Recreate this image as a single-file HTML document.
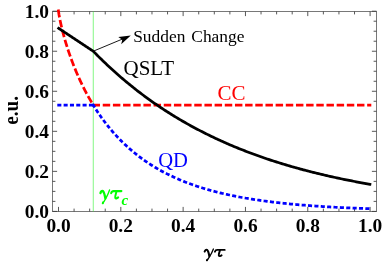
<!DOCTYPE html>
<html><head><meta charset="utf-8"><style>
html,body{margin:0;padding:0;background:#fff;}
svg{display:block;will-change:transform;}
text{font-family:"Liberation Serif",serif;}
</style></head><body>
<svg width="382" height="264" viewBox="0 0 382 264">
<rect width="382" height="264" fill="#fff"/>
<defs><g id="gt"><g fill="none" stroke-linecap="round" stroke-linejoin="round">
<path d="M0.7,-5.1 C1.1,-6.7 2.1,-7.2 3.0,-6.8 C4.2,-6.0 4.9,-3.0 5.3,-0.6" stroke-width="2.1"/>
<path d="M9.4,-7.7 C8.2,-4.5 6.7,-1.8 5.4,0.2 C4.4,1.9 3.6,3.2 3.0,3.6" stroke-width="1.3"/>
<path d="M3.2,3.0 L2.9,3.6" stroke-width="1.9"/>
<path d="M10.9,-5.0 C11.3,-6.3 12.2,-6.8 13.3,-6.8 L20.7,-6.8" stroke-width="1.9"/>
<path d="M16.0,-6.6 C15.5,-4.5 14.4,-2.2 14.8,-1.1 C15.2,-0.3 16.5,-0.4 17.6,-1.4" stroke-width="1.9"/>
</g></g></defs>
<g stroke="#3a3a3a" stroke-width="0.85" fill="none">
<rect x="52.5" y="11.5" width="324.0" height="200.0" stroke="#787878" stroke-width="1"/>
<path d="M58.50,211.5 v-4.6 M58.50,11.5 v4.6"/>
<path d="M52.5,211.40 h4.6 M376.5,211.40 h-4.6"/>
<path d="M74.08,211.5 v-2.9 M74.08,11.5 v2.9"/>
<path d="M52.5,201.39 h2.9 M376.5,201.39 h-2.9"/>
<path d="M89.66,211.5 v-2.9 M89.66,11.5 v2.9"/>
<path d="M52.5,191.38 h2.9 M376.5,191.38 h-2.9"/>
<path d="M105.24,211.5 v-2.9 M105.24,11.5 v2.9"/>
<path d="M52.5,181.37 h2.9 M376.5,181.37 h-2.9"/>
<path d="M120.82,211.5 v-4.6 M120.82,11.5 v4.6"/>
<path d="M52.5,171.36 h4.6 M376.5,171.36 h-4.6"/>
<path d="M136.40,211.5 v-2.9 M136.40,11.5 v2.9"/>
<path d="M52.5,161.35 h2.9 M376.5,161.35 h-2.9"/>
<path d="M151.98,211.5 v-2.9 M151.98,11.5 v2.9"/>
<path d="M52.5,151.34 h2.9 M376.5,151.34 h-2.9"/>
<path d="M167.56,211.5 v-2.9 M167.56,11.5 v2.9"/>
<path d="M52.5,141.33 h2.9 M376.5,141.33 h-2.9"/>
<path d="M183.14,211.5 v-4.6 M183.14,11.5 v4.6"/>
<path d="M52.5,131.32 h4.6 M376.5,131.32 h-4.6"/>
<path d="M198.72,211.5 v-2.9 M198.72,11.5 v2.9"/>
<path d="M52.5,121.31 h2.9 M376.5,121.31 h-2.9"/>
<path d="M214.30,211.5 v-2.9 M214.30,11.5 v2.9"/>
<path d="M52.5,111.30 h2.9 M376.5,111.30 h-2.9"/>
<path d="M229.88,211.5 v-2.9 M229.88,11.5 v2.9"/>
<path d="M52.5,101.29 h2.9 M376.5,101.29 h-2.9"/>
<path d="M245.46,211.5 v-4.6 M245.46,11.5 v4.6"/>
<path d="M52.5,91.28 h4.6 M376.5,91.28 h-4.6"/>
<path d="M261.04,211.5 v-2.9 M261.04,11.5 v2.9"/>
<path d="M52.5,81.27 h2.9 M376.5,81.27 h-2.9"/>
<path d="M276.62,211.5 v-2.9 M276.62,11.5 v2.9"/>
<path d="M52.5,71.26 h2.9 M376.5,71.26 h-2.9"/>
<path d="M292.20,211.5 v-2.9 M292.20,11.5 v2.9"/>
<path d="M52.5,61.25 h2.9 M376.5,61.25 h-2.9"/>
<path d="M307.78,211.5 v-4.6 M307.78,11.5 v4.6"/>
<path d="M52.5,51.24 h4.6 M376.5,51.24 h-4.6"/>
<path d="M323.36,211.5 v-2.9 M323.36,11.5 v2.9"/>
<path d="M52.5,41.23 h2.9 M376.5,41.23 h-2.9"/>
<path d="M338.94,211.5 v-2.9 M338.94,11.5 v2.9"/>
<path d="M52.5,31.22 h2.9 M376.5,31.22 h-2.9"/>
<path d="M354.52,211.5 v-2.9 M354.52,11.5 v2.9"/>
<path d="M52.5,21.21 h2.9 M376.5,21.21 h-2.9"/>
<path d="M370.10,211.5 v-4.6 M370.10,11.5 v4.6"/>
<path d="M52.5,11.20 h4.6 M376.5,11.20 h-4.6"/>
</g>
<g fill="none">
<path d="M93.27,11.5 V211.5" stroke="#30f030" stroke-width="0.6"/>
<g stroke="#ff0000" stroke-width="2.75" stroke-dasharray="7.45 2.72"><path d="M58.26,9.52 L58.50,11.20 L58.94,14.28 L59.38,16.79 L59.82,19.08 L60.26,21.23 L60.70,23.26 L61.14,25.22 L61.58,27.09 L62.02,28.91 L62.46,30.67 L62.90,32.38 L63.34,34.05 L63.78,35.68 L64.22,37.27 L64.66,38.82 L65.10,40.35 L65.54,41.84 L65.98,43.30 L66.42,44.74 L66.86,46.15 L67.30,47.54 L67.74,48.90 L68.18,50.24 L68.62,51.56 L69.06,52.86 L69.50,54.14 L69.94,55.41 L70.38,56.65 L70.82,57.88 L71.26,59.08 L71.70,60.28 L72.14,61.45 L72.58,62.62 L73.02,63.76 L73.46,64.90 L73.90,66.01 L74.34,67.12 L74.78,68.21 L75.22,69.29 L75.66,70.35 L76.10,71.41 L76.54,72.45 L76.98,73.48 L77.42,74.50 L77.86,75.50 L78.30,76.50 L78.74,77.49 L79.18,78.46 L79.62,79.42 L80.06,80.38 L80.50,81.32 L80.94,82.26 L81.38,83.18 L81.82,84.10 L82.26,85.00 L82.70,85.90 L83.14,86.79 L83.58,87.67 L84.02,88.54 L84.46,89.40 L84.90,90.26 L85.34,91.11 L85.78,91.94 L86.22,92.78 L86.66,93.60 L87.10,94.41 L87.54,95.22 L87.98,96.02 L88.42,96.82 L88.87,97.60 L89.31,98.38 L89.75,99.15 L90.19,99.92 L90.63,100.68 L91.07,101.43 L91.51,102.17 L91.95,102.91 L92.39,103.65 L92.83,104.37 L93.27,105.09 L93.89,106.12" stroke-dasharray="7.95 2.72 7.45 2.72 7.45 2.72 7.45 2.72 7.45 2.72 7.45 2.72 7.45 2.72 7.45 2.72 7.45 2.72 7.45 2.72 7.45 2.72 7.45 2.72 7.45 2.72 "/><path d="M92.57,105.09 L93.27,105.09 L370.10,105.09 L371.30,105.09"/></g>
<g stroke="#0000ff" stroke-width="2.75" stroke-dasharray="4.05 2.27"><path d="M57.30,105.09 L58.50,105.09 L93.27,105.09 L94.47,105.09"/><path d="M92.63,104.07 L93.27,105.09 L94.66,107.33 L96.05,109.51 L97.44,111.63 L98.83,113.70 L100.22,115.71 L101.61,117.68 L103.00,119.59 L104.39,121.46 L105.79,123.28 L107.18,125.07 L108.57,126.80 L109.96,128.50 L111.35,130.16 L112.74,131.78 L114.13,133.36 L115.52,134.91 L116.91,136.42 L118.31,137.90 L119.70,139.34 L121.09,140.75 L122.48,142.13 L123.87,143.48 L125.26,144.81 L126.65,146.10 L128.04,147.36 L129.44,148.60 L130.83,149.81 L132.22,151.00 L133.61,152.16 L135.00,153.29 L136.39,154.41 L137.78,155.49 L139.17,156.56 L140.56,157.60 L141.96,158.63 L143.35,159.63 L144.74,160.61 L146.13,161.57 L147.52,162.51 L148.91,163.43 L150.30,164.34 L151.69,165.22 L153.08,166.09 L154.48,166.94 L155.87,167.78 L157.26,168.59 L158.65,169.39 L160.04,170.18 L161.43,170.95 L162.82,171.70 L164.21,172.44 L165.60,173.16 L167.00,173.87 L168.39,174.57 L169.78,175.25 L171.17,175.92 L172.56,176.58 L173.95,177.22 L175.34,177.85 L176.73,178.47 L178.12,179.08 L179.52,179.67 L180.91,180.26 L182.30,180.83 L183.69,181.39 L185.08,181.94 L186.47,182.49 L187.86,183.02 L189.25,183.54 L190.64,184.05 L192.04,184.55 L193.43,185.04 L194.82,185.52 L196.21,185.99 L197.60,186.46 L198.99,186.91 L200.38,187.36 L201.77,187.80 L203.16,188.23 L204.56,188.65 L205.95,189.06 L207.34,189.47 L208.73,189.87 L210.12,190.26 L211.51,190.64 L212.90,191.02 L214.29,191.39 L215.68,191.75 L217.08,192.11 L218.47,192.46 L219.86,192.80 L221.25,193.14 L222.64,193.47 L224.03,193.79 L225.42,194.11 L226.81,194.42 L228.21,194.73 L229.60,195.03 L230.99,195.32 L232.38,195.61 L233.77,195.90 L235.16,196.18 L236.55,196.45 L237.94,196.72 L239.33,196.99 L240.73,197.25 L242.12,197.50 L243.51,197.75 L244.90,198.00 L246.29,198.24 L247.68,198.47 L249.07,198.71 L250.46,198.93 L251.85,199.16 L253.25,199.38 L254.64,199.59 L256.03,199.81 L257.42,200.01 L258.81,200.22 L260.20,200.42 L261.59,200.61 L262.98,200.81 L264.37,201.00 L265.77,201.18 L267.16,201.37 L268.55,201.55 L269.94,201.72 L271.33,201.90 L272.72,202.07 L274.11,202.23 L275.50,202.40 L276.89,202.56 L278.29,202.72 L279.68,202.87 L281.07,203.02 L282.46,203.17 L283.85,203.32 L285.24,203.47 L286.63,203.61 L288.02,203.75 L289.41,203.88 L290.81,204.02 L292.20,204.15 L293.59,204.28 L294.98,204.41 L296.37,204.53 L297.76,204.65 L299.15,204.77 L300.54,204.89 L301.93,205.01 L303.33,205.12 L304.72,205.23 L306.11,205.34 L307.50,205.45 L308.89,205.56 L310.28,205.66 L311.67,205.76 L313.06,205.86 L314.45,205.96 L315.85,206.06 L317.24,206.15 L318.63,206.25 L320.02,206.34 L321.41,206.43 L322.80,206.52 L324.19,206.61 L325.58,206.69 L326.98,206.77 L328.37,206.86 L329.76,206.94 L331.15,207.02 L332.54,207.09 L333.93,207.17 L335.32,207.25 L336.71,207.32 L338.10,207.39 L339.50,207.46 L340.89,207.53 L342.28,207.60 L343.67,207.67 L345.06,207.74 L346.45,207.80 L347.84,207.87 L349.23,207.93 L350.62,207.99 L352.02,208.05 L353.41,208.11 L354.80,208.17 L356.19,208.23 L357.58,208.28 L358.97,208.34 L360.36,208.39 L361.75,208.45 L363.14,208.50 L364.54,208.55 L365.93,208.60 L367.32,208.65 L368.71,208.70 L370.10,208.75 L371.30,208.79" stroke-dasharray="4.09 2.29"/></g>
<path d="M57.50,27.55 L58.50,28.22 L58.94,28.51 L59.38,28.80 L59.82,29.09 L60.26,29.38 L60.70,29.67 L61.14,29.97 L61.58,30.26 L62.02,30.55 L62.46,30.84 L62.90,31.13 L63.34,31.42 L63.78,31.71 L64.22,32.01 L64.66,32.30 L65.10,32.59 L65.54,32.88 L65.98,33.17 L66.42,33.46 L66.86,33.75 L67.30,34.05 L67.74,34.34 L68.18,34.63 L68.62,34.92 L69.06,35.21 L69.50,35.50 L69.94,35.79 L70.38,36.09 L70.82,36.38 L71.26,36.67 L71.70,36.96 L72.14,37.25 L72.58,37.54 L73.02,37.83 L73.46,38.13 L73.90,38.42 L74.34,38.71 L74.78,39.00 L75.22,39.29 L75.66,39.58 L76.10,39.87 L76.54,40.17 L76.98,40.46 L77.42,40.75 L77.86,41.04 L78.30,41.33 L78.74,41.62 L79.18,41.91 L79.62,42.21 L80.06,42.50 L80.50,42.79 L80.94,43.08 L81.38,43.37 L81.82,43.66 L82.26,43.95 L82.70,44.25 L83.14,44.54 L83.58,44.83 L84.02,45.12 L84.46,45.41 L84.90,45.70 L85.34,45.99 L85.78,46.29 L86.22,46.58 L86.66,46.87 L87.10,47.16 L87.54,47.45 L87.98,47.74 L88.42,48.03 L88.87,48.33 L89.31,48.62 L89.75,48.91 L90.19,49.20 L90.63,49.49 L91.07,49.78 L91.51,50.07 L91.95,50.37 L92.39,50.66 L92.83,50.95 L93.27,51.24 L94.66,52.66 L96.05,54.07 L97.44,55.47 L98.83,56.86 L100.22,58.23 L101.61,59.59 L103.00,60.94 L104.39,62.28 L105.79,63.61 L107.18,64.92 L108.57,66.22 L109.96,67.51 L111.35,68.79 L112.74,70.06 L114.13,71.32 L115.52,72.56 L116.91,73.80 L118.31,75.02 L119.70,76.23 L121.09,77.43 L122.48,78.62 L123.87,79.80 L125.26,80.97 L126.65,82.13 L128.04,83.28 L129.44,84.42 L130.83,85.55 L132.22,86.67 L133.61,87.78 L135.00,88.88 L136.39,89.97 L137.78,91.04 L139.17,92.11 L140.56,93.17 L141.96,94.23 L143.35,95.27 L144.74,96.30 L146.13,97.32 L147.52,98.34 L148.91,99.34 L150.30,100.34 L151.69,101.33 L153.08,102.30 L154.48,103.27 L155.87,104.23 L157.26,105.19 L158.65,106.13 L160.04,107.07 L161.43,107.99 L162.82,108.91 L164.21,109.82 L165.60,110.73 L167.00,111.62 L168.39,112.51 L169.78,113.39 L171.17,114.26 L172.56,115.12 L173.95,115.98 L175.34,116.83 L176.73,117.67 L178.12,118.50 L179.52,119.33 L180.91,120.15 L182.30,120.96 L183.69,121.76 L185.08,122.56 L186.47,123.35 L187.86,124.13 L189.25,124.91 L190.64,125.67 L192.04,126.44 L193.43,127.19 L194.82,127.94 L196.21,128.68 L197.60,129.42 L198.99,130.15 L200.38,130.87 L201.77,131.58 L203.16,132.29 L204.56,133.00 L205.95,133.69 L207.34,134.38 L208.73,135.07 L210.12,135.75 L211.51,136.42 L212.90,137.09 L214.29,137.75 L215.68,138.40 L217.08,139.05 L218.47,139.69 L219.86,140.33 L221.25,140.96 L222.64,141.59 L224.03,142.21 L225.42,142.83 L226.81,143.43 L228.21,144.04 L229.60,144.64 L230.99,145.23 L232.38,145.82 L233.77,146.40 L235.16,146.98 L236.55,147.55 L237.94,148.12 L239.33,148.68 L240.73,149.24 L242.12,149.79 L243.51,150.34 L244.90,150.88 L246.29,151.42 L247.68,151.95 L249.07,152.48 L250.46,153.01 L251.85,153.53 L253.25,154.04 L254.64,154.55 L256.03,155.06 L257.42,155.56 L258.81,156.05 L260.20,156.54 L261.59,157.03 L262.98,157.52 L264.37,157.99 L265.77,158.47 L267.16,158.94 L268.55,159.41 L269.94,159.87 L271.33,160.33 L272.72,160.78 L274.11,161.23 L275.50,161.68 L276.89,162.12 L278.29,162.56 L279.68,162.99 L281.07,163.42 L282.46,163.85 L283.85,164.27 L285.24,164.69 L286.63,165.10 L288.02,165.52 L289.41,165.92 L290.81,166.33 L292.20,166.73 L293.59,167.13 L294.98,167.52 L296.37,167.91 L297.76,168.30 L299.15,168.68 L300.54,169.06 L301.93,169.44 L303.33,169.81 L304.72,170.18 L306.11,170.54 L307.50,170.91 L308.89,171.27 L310.28,171.62 L311.67,171.98 L313.06,172.33 L314.45,172.68 L315.85,173.02 L317.24,173.36 L318.63,173.70 L320.02,174.03 L321.41,174.37 L322.80,174.70 L324.19,175.02 L325.58,175.35 L326.98,175.67 L328.37,175.98 L329.76,176.30 L331.15,176.61 L332.54,176.92 L333.93,177.23 L335.32,177.53 L336.71,177.83 L338.10,178.13 L339.50,178.42 L340.89,178.72 L342.28,179.01 L343.67,179.30 L345.06,179.58 L346.45,179.86 L347.84,180.14 L349.23,180.42 L350.62,180.70 L352.02,180.97 L353.41,181.24 L354.80,181.51 L356.19,181.78 L357.58,182.04 L358.97,182.30 L360.36,182.56 L361.75,182.81 L363.14,183.07 L364.54,183.32 L365.93,183.57 L367.32,183.82 L368.71,184.06 L370.10,184.31 L371.28,184.51" stroke="#000" stroke-width="2.75" stroke-linejoin="miter"/>
</g>
<g font-size="19.4px" font-weight="bold" fill="#000"><text x="58.5" y="232.3" text-anchor="middle">0.0</text><text x="120.8" y="232.3" text-anchor="middle">0.2</text><text x="183.1" y="232.3" text-anchor="middle">0.4</text><text x="245.5" y="232.3" text-anchor="middle">0.6</text><text x="307.8" y="232.3" text-anchor="middle">0.8</text><text x="370.1" y="232.3" text-anchor="middle">1.0</text><text x="49.0" y="217.8" text-anchor="end">0.0</text><text x="49.0" y="177.8" text-anchor="end">0.2</text><text x="49.0" y="137.7" text-anchor="end">0.4</text><text x="49.0" y="97.7" text-anchor="end">0.6</text><text x="49.0" y="57.6" text-anchor="end">0.8</text><text x="49.0" y="17.6" text-anchor="end">1.0</text></g>
<path d="M93.3,51.2 L124,38.4" stroke="#000" stroke-width="0.9" fill="none"/>
<path d="M130.8,35.6 L118.3,36.9 L122.3,39.8 L121.2,44.3 Z" fill="#000"/>
<text x="133.2" y="41.8" font-size="17.4px" word-spacing="1.6">Sudden Change</text>
<text x="123.5" y="74.5" font-size="21px">QSLT</text>
<text x="217.5" y="100" font-size="21px" fill="#ff0000">CC</text>
<text x="158.2" y="167.4" font-size="20.6px" fill="#0000ff">QD</text>
<use href="#gt" transform="translate(99.7,199.0) scale(1.05,1.16)" stroke="#00ff00"/>
<text x="121.6" y="204.8" font-size="15px" font-weight="bold" font-style="italic" fill="#00ff00">c</text>
<use href="#gt" transform="translate(204.0,256.7)" stroke="#000"/>
<text transform="translate(18.2,110.4) rotate(-90) scale(1,1.09)" font-size="19.3px" font-weight="bold" text-anchor="middle">e.u.</text>
</svg>
</body></html>
